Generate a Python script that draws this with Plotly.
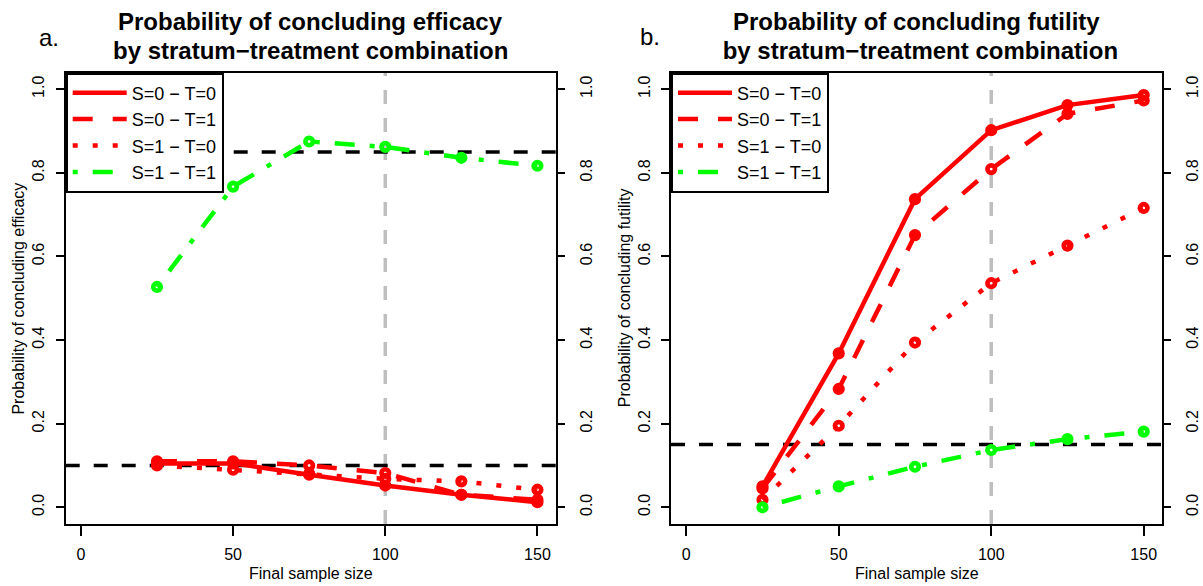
import plotly.graph_objects as go

# ---------------- data ----------------
sample_sizes = [25, 50, 75, 100, 125, 150]
series_names = ["S=0 \u2212 T=0", "S=0 \u2212 T=1", "S=1 \u2212 T=0", "S=1 \u2212 T=1"]

efficacy_s0t0 = [0.105, 0.105, 0.078, 0.052, 0.030, 0.012]
efficacy_s0t1 = [0.110, 0.110, 0.100, 0.082, 0.030, 0.018]
efficacy_s1t0 = [0.100, 0.090, 0.080, 0.068, 0.062, 0.042]
efficacy_s1t1 = [0.527, 0.767, 0.875, 0.862, 0.836, 0.817]

futility_s0t0 = [0.050, 0.368, 0.737, 0.902, 0.962, 0.986]
futility_s0t1 = [0.045, 0.283, 0.651, 0.809, 0.941, 0.973]
futility_s1t0 = [0.018, 0.195, 0.394, 0.536, 0.626, 0.716]
futility_s1t1 = [0.000, 0.050, 0.097, 0.137, 0.163, 0.181]

efficacy_thresholds = [0.10, 0.85]
futility_thresholds = [0.15]
planned_size = 100

x_ticks = [0, 50, 100, 150]
y_ticks = [0.0, 0.2, 0.4, 0.6, 0.8, 1.0]

# ---------------- styles ----------------
FONT = "Liberation Sans, Arial, Helvetica, sans-serif"
RED = "#FF0000"
GREEN = "#00FF00"
GRAY = "#BEBEBE"
colors = [RED, RED, RED, GREEN]
dashes = ["solid", "20px,20px", "5px,15px", "5px,15px,20px,15px"]
LW = 4.5

W, H = 1203, 586
def px(x):
    return x / W
def py(y):
    return 1 - y / H

left_dom = [px(65.7), px(555.7)]
right_dom = [px(671), px(1162)]
y_dom = [py(524), py(72.5)]
x_range = [-5, 156]
y_range = [-0.04, 1.04]

fig = go.Figure()

panels = [
    ("x", "y", "y3", "legend", [efficacy_s0t0, efficacy_s0t1, efficacy_s1t0, efficacy_s1t1]),
    ("x2", "y2", "y4", "legend2", [futility_s0t0, futility_s0t1, futility_s1t0, futility_s1t1]),
]
for xa, ya, ya_r, leg, data in panels:
    for name, vals, col, dash in zip(series_names, data, colors, dashes):
        fig.add_trace(go.Scatter(
            x=sample_sizes, y=vals, mode="lines", name=name,
            line=dict(color=col, width=LW, dash=dash),
            xaxis=xa, yaxis=ya, legend=leg, showlegend=True, hoverinfo="skip"))
    for vals, col in zip(data, colors):
        fig.add_trace(go.Scatter(
            x=sample_sizes, y=vals, mode="markers", showlegend=False,
            marker=dict(symbol="circle-open", size=7.5, color=col,
                        line=dict(color=col, width=4.7)),
            xaxis=xa, yaxis=ya_r, hoverinfo="skip"))

shapes = []
for xr, thr_list in (("x", efficacy_thresholds), ("x2", futility_thresholds)):
    yr = "y" if xr == "x" else "y2"
    shapes.append(dict(type="line", xref=xr, yref=yr + " domain", x0=planned_size, x1=planned_size,
                       y0=0, y1=1, line=dict(color=GRAY, width=3.5, dash="14px,14px"), layer="below"))
    for t in thr_list:
        shapes.append(dict(type="line", xref=xr + " domain", yref=yr, x0=0, x1=1, y0=t, y1=t,
                           line=dict(color="black", width=3.5, dash="14px,14px"), layer="below"))

axis_common = dict(showgrid=False, zeroline=False, showline=True, linecolor="black", linewidth=2,
                   ticks="outside", tickcolor="black", tickwidth=2,
                   tickfont=dict(family=FONT, size=16, color="black"))

xaxis_common = dict(axis_common, range=x_range, tickvals=x_ticks, ticklen=10, mirror=True,
                    ticklabelstandoff=5)
yaxis_common = dict(axis_common, range=y_range, tickvals=y_ticks, tickformat=".1f", ticklen=8,
                    tickangle=-90, mirror=True, ticklabelstandoff=5)
yright_common = dict(showgrid=False, zeroline=False, showline=False, ticks="outside",
                     tickcolor="black", tickwidth=2, ticklen=8, range=y_range, tickvals=y_ticks,
                     tickformat=".1f", tickangle=-90, side="right", ticklabelstandoff=8,
                     tickfont=dict(family=FONT, size=16, color="black"))

legend_common = dict(xanchor="left", yanchor="top", bgcolor="white", bordercolor="black",
                     borderwidth=2, font=dict(family=FONT, size=18, color="black"),
                     tracegroupgap=0, itemwidth=54)

annotations = []
def ann(text, x, y, size, bold=False, angle=0):
    annotations.append(dict(text=("<b>%s</b>" % text) if bold else text, x=x, y=y,
                            xref="paper", yref="paper", xanchor="center", yanchor="middle",
                            showarrow=False, textangle=angle,
                            font=dict(family=FONT, size=size, color="black")))

lc = (65.7 + 555.7) / 2
rc = (671 + 1162) / 2
ann("Probability of concluding efficacy", px(lc), py(21.7), 24, True)
ann("by stratum\u2212treatment combination", px(lc), py(50), 24, True)
ann("Probability of concluding futility", px(rc), py(21.7), 24, True)
ann(" by stratum\u2212treatment combination", px(rc), py(50), 24, True)
ann("a.", px(49), py(38), 24)
ann("b.", px(650), py(37), 24)
ann("Final sample size", px(lc), py(573), 16)
ann("Final sample size", px(rc), py(573), 16)
ann("Probability of concluding efficacy", px(18.3), py(298.25), 16, angle=-90)
ann("Probability of concluding futility", px(624), py(298.25), 16, angle=-90)

fig.update_layout(
    width=W, height=H, margin=dict(l=0, r=0, t=0, b=0),
    paper_bgcolor="white", plot_bgcolor="white",
    xaxis=dict(xaxis_common, domain=left_dom, anchor="y"),
    yaxis=dict(yaxis_common, domain=y_dom, anchor="x"),
    xaxis2=dict(xaxis_common, domain=right_dom, anchor="y2"),
    yaxis2=dict(yaxis_common, domain=y_dom, anchor="x2"),
    yaxis3=dict(yright_common, overlaying="y", anchor="x"),
    yaxis4=dict(yright_common, overlaying="y2", anchor="x2"),
    legend=dict(legend_common, x=left_dom[0], y=y_dom[1]),
    legend2=dict(legend_common, x=right_dom[0], y=y_dom[1]),
    shapes=shapes, annotations=annotations,
)

fig.write_html("out.html", config={"displayModeBar": False},
               post_script="document.body.style.margin='0px';document.body.style.overflow='hidden';")
